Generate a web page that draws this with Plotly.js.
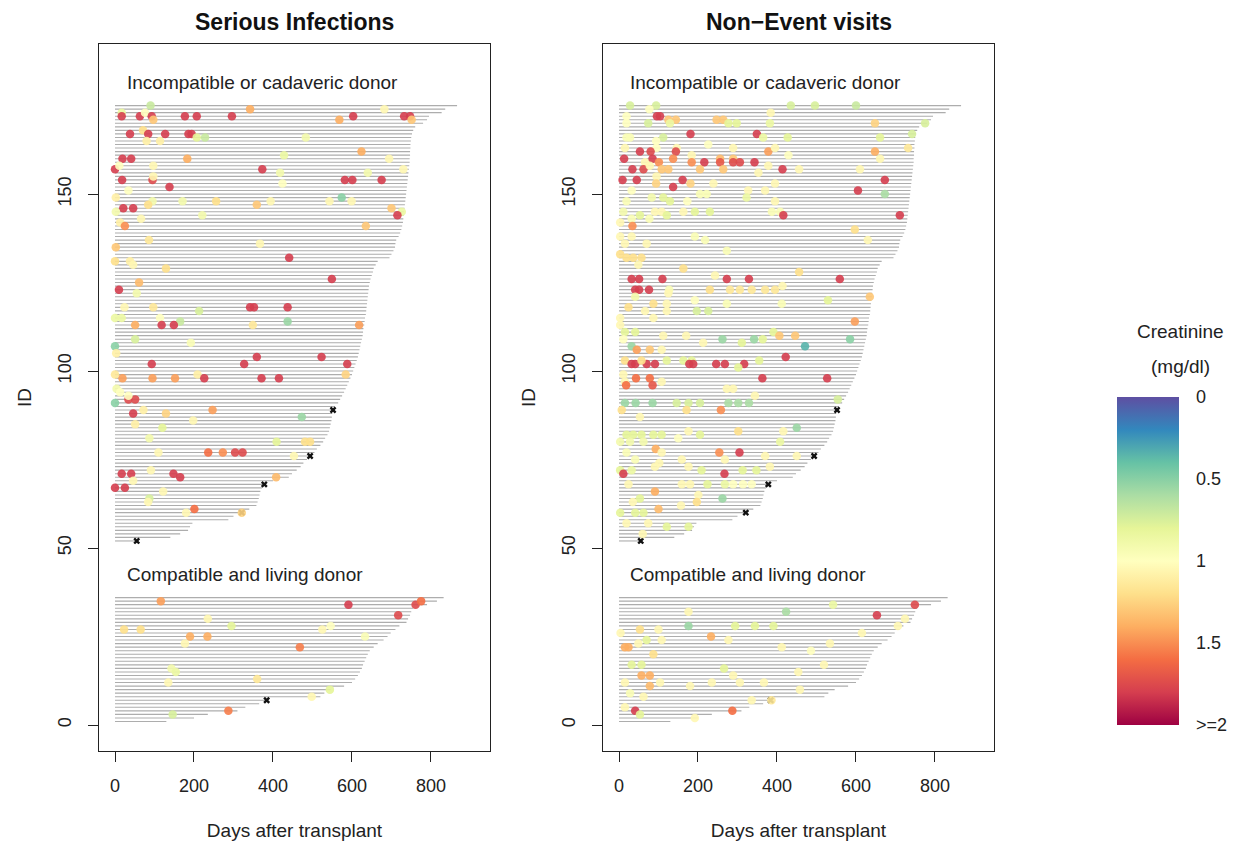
<!DOCTYPE html>
<html>
<head>
<meta charset="utf-8">
<script src="https://cdn.plot.ly/plotly-3.0.1.min.js"></script>
<style>html,body{margin:0;padding:0;background:#fff;}#chart{width:1243px;height:844px;}</style>
</head>
<body>
<div id="chart"></div>
<script>
// ---------- DATA ----------
// Patient IDs and follow-up end (days after transplant)
const lowerIds = [1,2,3,4,5,6,7,8,9,10,11,12,13,14,15,16,17,18,19,20,21,22,23,24,25,26,27,28,29,30,31,32,33,34,35,36];
const lowerEnd = [130,200,235,310,330,365,384,520,530,546,580,600,608,615,620,625,628,632,636,640,645,655,665,680,690,698,710,720,738,742,747,750,755,790,815,832];
const upperIds = [52,53,54,55,56,57,58,59,60,61,62,63,64,65,66,67,68,69,70,71,72,73,74,75,76,77,78,79,80,81,82,83,84,85,86,87,88,89,90,91,92,93,94,95,96,97,98,99,100,101,102,103,104,105,106,107,108,109,110,111,112,113,114,115,116,117,118,119,120,121,122,123,124,125,126,127,128,129,130,131,132,133,134,135,136,137,138,139,140,141,142,143,144,145,146,147,148,149,150,151,152,153,154,155,156,157,158,159,160,161,162,163,164,165,166,167,168,169,170,171,172,173,174,175];
const upperEnd = [55,140,165,185,190,196,287,300,322,340,358,361,364,366,368,372,378,400,440,448,460,470,477,486,494,505,511,520,527,532,538,542,544,546,548,549,550,553,557,565,570,575,580,584,588,592,596,600,603,606,609,612,615,617,619,621,623,625,627,628,629,631,632,633,635,636,637,638,639,640,641,642,643,645,647,650,653,655,660,665,695,700,705,709,710,712,718,722,725,727,729,730,731,732,733,734,735,736,737,738,739,740,741,742,743,744,745,746,746,747,747,748,748,749,750,752,755,760,780,790,795,827,836,866];

// Graft loss / death markers (day, ID)
const lossDay = [55,378,321,494,552,384];
const lossId  = [52,68,60,76,89,7];

// Serious infections: day, ID, creatinine (mg/dl)
const infDay = [90,17,17,63,76,93,97,177,207,296,342,38,71,84,80,114,127,186,194,207,228,19,41,0,11,97,18,95,97,138,183,373,428,418,424,34,2,95,84,171,256,21,46,2,66,13,25,221,359,394,86,2,367,0,38,46,129,441,61,10,55,24,97,0,17,114,213,342,352,437,437,165,
682,568,603,732,747,751,483,624,694,640,730,582,601,675,543,574,599,700,726,715,635,549,
51,118,149,349,51,192,0,3,93,327,359,0,19,95,152,209,226,371,415,4,13,0,34,51,34,72,46,51,129,247,198,120,87,110,236,273,304,323,409,453,91,17,41,46,148,165,0,25,122,87,84,408,201,180,321,
618,523,588,584,473,481,494,
116,235,295,23,65,190,234,177,468,143,154,135,360,287,146,591,761,775,717,525,546,633,544,498];
const infId = [175,173,172,172,173,172,171,172,172,172,174,167,168,167,165,165,167,167,167,166,166,160,160,157,158,158,154,154,155,152,160,157,161,156,153,151,149,148,147,148,148,146,146,145,143,142,141,144,147,148,137,135,136,131,131,130,129,132,125,123,122,118,118,115,115,115,117,118,118,118,114,114,
174,171,172,172,172,171,166,162,160,156,157,154,154,154,148,149,148,146,145,144,141,126,
113,113,113,113,109,108,107,105,102,102,104,99,98,98,98,99,98,98,98,95,94,91,92,92,93,89,88,85,88,89,86,84,81,77,77,77,77,77,80,76,72,71,71,69,71,70,67,67,66,64,63,70,61,60,60,
113,104,102,99,87,80,80,
35,30,28,27,27,25,25,23,22,16,15,12,13,4,3,34,34,35,31,27,28,25,10,8];
const infCreat = [0.7,0.85,1.8,1.8,1.0,1.8,1.3,1.8,1.8,1.8,1.4,1.8,1.2,1.8,1.1,1.1,1.8,1.8,1.8,0.8,0.7,1.8,1.8,1.8,1.0,1.05,1.8,1.75,1.05,1.8,1.4,1.8,0.85,0.9,1.0,1.0,1.1,0.9,1.2,0.9,1.2,1.8,1.8,0.9,1.05,1.1,1.5,0.9,1.3,1.05,1.15,1.3,1.05,1.2,1.1,1.05,1.2,1.8,1.35,1.8,0.9,1.05,1.15,0.85,0.85,1.0,0.75,1.8,1.8,1.8,0.55,0.7,
1.05,1.4,1.8,1.8,1.8,1.3,0.9,1.4,1.05,0.9,1.05,1.8,1.8,1.8,1.05,0.5,1.05,1.3,0.85,1.8,1.3,1.8,
1.4,1.8,1.8,1.15,0.75,0.95,0.5,1.1,1.8,1.8,1.8,1.15,1.45,1.45,1.45,1.1,1.8,1.8,1.8,0.9,1.0,0.5,1.75,1.75,1.0,1.1,1.8,1.1,1.25,1.45,1.05,0.8,0.9,1.05,1.6,1.5,1.75,1.75,0.8,1.05,1.05,1.8,1.8,1.05,1.8,1.8,1.8,1.8,1.05,0.75,1.05,1.35,1.6,1.05,1.25,
1.45,1.8,1.8,1.25,0.55,1.2,1.2,
1.45,1.05,0.8,1.2,1.2,1.4,1.4,1.05,1.55,0.9,0.85,1.05,1.15,1.55,0.75,1.8,1.75,1.6,1.75,1.05,1.0,0.95,0.8,1.05];

// Non-event visits: day, ID, creatinine (mg/dl)
const visDay = [28,94,435,77,19,19,96,104,125,144,74,129,247,264,277,298,384,382,19,28,112,181,349,365,427,94,95,15,146,226,289,53,80,144,184,378,395,429,13,66,85,101,137,184,216,256,256,289,289,306,343,378,414,456,34,62,78,108,125,205,264,353,9,45,95,161,181,94,137,239,395,327,370,32,205,222,323,83,112,129,19,173,395,192,230,163,91,108,53,121,11,387,408,416,32,77,3,34,3,32,192,218,15,70,273,3,19,36,57,49,163,243,456,32,51,110,273,329,41,51,76,127,230,281,306,336,370,395,414,41,125,192,273,412,24,87,121,66,121,197,226,3,87,
3,15,41,112,170,213,262,311,342,364,391,406,446,32,45,78,11,108,15,32,41,70,91,57,121,163,184,178,188,246,268,317,355,302,422,11,15,43,78,18,85,108,363,273,289,344,15,42,85,146,176,205,277,302,329,7,171,258,53,450,19,36,57,87,108,205,3,28,62,150,176,302,416,408,93,19,108,254,305,370,41,159,102,176,268,450,3,11,32,91,209,267,313,348,382,24,159,180,224,268,289,314,336,91,201,262,53,35,197,3,41,62,100,157,19,74,121,176,60,
176,176,4,53,100,70,108,233,277,294,344,391,15,24,49,87,412,32,57,266,57,78,78,15,104,180,235,289,306,367,454,28,62,336,386,15,41,53,287,192,
423,542,653,749,724,706,615,534,486,519,458,
600,496,775,648,661,742,732,648,661,673,610,605,673,711,597,630,635,559,529,597,585,471,527,554];
const visId = [175,175,175,174,172,170,172,172,171,171,170,170,171,171,170,170,173,170,166,166,166,167,167,166,166,165,163,163,163,164,163,162,162,162,161,162,163,161,160,159,160,159,160,159,159,160,159,160,159,159,159,158,157,157,157,157,158,157,157,157,157,156,154,154,155,154,153,153,152,153,153,151,151,151,150,150,149,149,149,148,148,148,148,145,145,145,145,145,144,144,145,145,145,144,143,143,142,141,138,138,138,137,136,136,134,133,132,132,132,130,129,127,128,126,126,126,126,126,123,123,123,123,123,123,123,123,123,123,124,121,122,120,119,119,118,119,119,117,117,117,117,115,115,
113,111,111,110,110,108,109,108,109,109,111,110,110,107,106,106,109,106,103,102,102,102,102,103,103,103,103,102,102,102,102,102,103,101,104,99,97,98,98,96,96,97,98,95,95,93,91,91,91,91,91,91,91,91,91,89,89,89,87,84,82,82,82,82,82,82,80,80,80,81,83,83,83,80,78,77,77,77,77,76,75,75,74,73,75,76,72,71,72,73,72,71,72,72,73,68,68,68,68,68,68,68,68,66,65,64,64,63,63,60,60,60,61,62,57,57,56,56,54,
32,28,26,27,27,24,24,25,24,28,28,28,22,22,23,20,22,17,17,16,14,14,11,12,12,11,12,14,12,12,15,9,8,7,7,5,4,3,4,2,
32,34,31,34,30,28,26,23,21,17,10,
175,175,170,170,166,167,163,162,160,154,157,151,150,144,140,137,121,126,120,114,109,107,98,92];
const visCreat = [0.75,0.75,0.75,1.0,1.0,1.0,1.8,1.8,1.3,1.3,0.75,0.85,1.3,1.3,0.8,0.8,1.05,0.85,0.95,0.95,0.75,1.8,1.8,0.85,0.8,1.0,1.0,1.05,1.05,1.0,1.05,1.8,1.75,1.75,1.05,1.45,1.05,1.0,1.8,1.05,1.8,1.5,1.5,1.5,1.8,1.35,1.7,1.3,1.75,1.75,1.8,1.05,1.8,1.05,1.8,1.75,1.05,1.3,1.3,1.3,1.3,1.05,1.8,1.8,1.05,1.8,1.25,1.25,1.8,1.05,1.05,1.05,1.05,1.0,0.95,0.95,0.85,0.9,0.8,0.8,0.95,1.0,1.05,0.8,0.8,1.05,1.05,1.05,0.8,0.8,0.9,0.95,0.95,1.8,0.95,0.95,1.05,1.5,1.05,1.05,0.95,0.95,1.05,1.05,0.95,1.2,1.2,1.2,1.2,1.05,1.2,1.05,1.2,1.8,1.8,1.8,1.8,1.8,1.8,1.8,1.8,0.95,1.2,1.15,1.15,1.15,1.15,1.15,1.05,0.9,1.05,1.0,0.95,0.95,1.2,1.2,1.05,1.05,1.05,0.75,0.75,1.05,1.05,
1.05,0.8,0.8,1.05,1.05,1.05,0.55,0.8,0.55,0.8,0.8,1.3,1.3,0.55,1.45,1.3,1.0,1.05,1.2,1.8,1.8,1.8,1.8,1.2,0.8,0.8,0.8,1.8,1.8,1.8,1.8,1.8,0.8,0.8,1.8,1.05,1.05,1.6,1.6,1.6,1.7,1.05,1.8,1.05,1.05,1.05,0.55,0.55,0.55,0.75,0.75,0.75,0.6,0.6,0.6,1.2,1.2,1.5,1.05,0.55,0.8,0.8,0.8,0.8,0.8,0.8,0.9,0.9,0.9,1.0,1.05,1.2,1.05,0.85,1.4,0.95,1.05,1.5,1.8,1.05,0.95,1.05,1.05,1.05,1.05,1.05,0.8,1.8,0.85,1.05,0.8,1.8,0.8,0.8,1.05,1.05,1.05,1.05,0.8,0.85,1.0,1.0,1.0,1.4,1.05,0.55,0.8,1.05,1.2,0.8,0.8,0.8,1.35,1.05,1.05,1.05,0.8,0.8,1.05,
1.05,0.55,1.05,1.2,1.05,0.8,1.05,1.4,1.05,0.8,0.8,0.8,1.4,1.4,1.05,1.2,1.05,0.8,0.8,0.8,1.4,1.4,1.35,1.05,1.05,1.05,1.05,1.05,1.05,1.05,1.05,0.95,1.05,1.05,1.15,1.05,1.8,0.8,1.6,1.05,
0.6,0.85,1.8,1.75,1.05,1.05,1.05,1.05,1.0,1.05,1.05,
0.7,0.75,0.75,1.25,0.8,0.75,1.15,1.4,1.05,1.8,1.05,1.8,0.6,1.8,1.2,1.05,1.3,1.8,0.8,1.45,0.5,0.35,1.8,0.75];

// Colour bar tick labels
const cbTickVals = [0, 0.5, 1, 1.5, 2];
const cbTickText = ['0', '0.5', '1', '1.5', '>=2'];

// ---------- BUILD ----------
const spectral = [[0,'#9E0142'],[0.1,'#D53E4F'],[0.2,'#F46D43'],[0.3,'#FDAE61'],[0.4,'#FEE08B'],[0.5,'#FFFFBF'],[0.6,'#E6F598'],[0.7,'#ABDDA4'],[0.8,'#66C2A5'],[0.9,'#3288BD'],[1,'#5E4FA2']];
// colour value is negated so the colour bar reads 0 at the top and >=2 at the bottom
const toColor = arr => arr.map(v => -Math.min(v, 2));

function followLines(xa, ya) {
  const x = [], y = [];
  const ids = lowerIds.concat(upperIds), ends = lowerEnd.concat(upperEnd);
  for (let i = 0; i < ids.length; i++) { x.push(0, ends[i], null); y.push(ids[i], ids[i], null); }
  return {type:'scatter', mode:'lines', x, y, xaxis:xa, yaxis:ya, line:{color:'#ADADAD', width:1.1}, hoverinfo:'skip'};
}
function lossTrace(xa, ya) {
  return {type:'scatter', mode:'markers', x:lossDay, y:lossId, xaxis:xa, yaxis:ya,
    marker:{symbol:'x', size:6, color:'#111', line:{width:0}}};
}
function eventTrace(d, id, c, xa, ya, showscale) {
  return {type:'scatter', mode:'markers', x:d, y:id, xaxis:xa, yaxis:ya,
    marker:{size:8.5, color:toColor(c), cmin:-2, cmax:0, colorscale:spectral, opacity:0.9, line:{width:0},
      showscale:showscale,
      colorbar: showscale ? {x:1117/1243, xanchor:'left', xpad:0, ypad:0, y:1-561/844, yanchor:'middle',
        len:328, lenmode:'pixels', thickness:62, thicknessmode:'pixels', outlinewidth:0,
        ticks:'outside', ticklen:14, tickcolor:'rgba(255,255,255,0)',
        tickvals:cbTickVals.map(v => -v), ticktext:cbTickText, tickfont:{size:18, color:'#222'}} : undefined}};
}

const data = [
  followLines('x','y'), lossTrace('x','y'), eventTrace(infDay, infId, infCreat, 'x', 'y', false),
  followLines('x2','y2'), lossTrace('x2','y2'), eventTrace(visDay, visId, visCreat, 'x2', 'y2', true)
];

const axX = dom => ({domain:dom, range:[-40.5, 949.4], tickvals:[0,200,400,600,800], ticks:'outside', ticklen:10,
  tickcolor:'#222', tickwidth:1, showline:true, mirror:true, linecolor:'#222', linewidth:1, showgrid:false, zeroline:false,
  automargin:false, ticklabelstandoff:8, tickfont:{size:18},
  title:{text:'Days after transplant', font:{size:19}, standoff:29}});
const axY = () => ({domain:[0.11019, 0.94787], range:[-7.34, 192.4], tickvals:[0,50,100,150], tickangle:-90, ticks:'outside',
  ticklen:10, tickcolor:'#222', tickwidth:1, showline:true, mirror:true, linecolor:'#222', linewidth:1, showgrid:false,
  zeroline:false, automargin:false, ticklabelstandoff:10, tickfont:{size:18},
  title:{text:'ID', font:{size:19}, standoff:18}});

const ann = (text, x, y, xref, yref, opts) => Object.assign({text, x, y, xref, yref, showarrow:false}, opts || {});
const layout = {
  width:1243, height:844, margin:{l:0, r:0, t:0, b:0}, paper_bgcolor:'#fff', plot_bgcolor:'#fff', showlegend:false,
  font:{family:'"Liberation Sans", Arial, sans-serif', color:'#222', size:18},
  xaxis:Object.assign(axX([0.07965, 0.39421]), {anchor:'y'}),
  yaxis:Object.assign(axY(), {anchor:'x'}),
  xaxis2:Object.assign(axX([0.48512, 0.79968]), {anchor:'y2'}),
  yaxis2:Object.assign(axY(), {anchor:'x2'}),
  annotations:[
    ann('<b>Serious Infections</b>', 294.5/1243, 1-22/844, 'paper', 'paper', {font:{size:23, color:'#111'}, xanchor:'center', yanchor:'middle'}),
    ann('<b>Non\u2212Event visits</b>', 798.5/1243, 1-22/844, 'paper', 'paper', {font:{size:23, color:'#111'}, xanchor:'center', yanchor:'middle'}),
    ann('Incompatible or cadaveric donor', 25, 181.6, 'x', 'y', {font:{size:19}, xanchor:'left', yanchor:'middle'}),
    ann('Compatible and living donor', 25, 42.4, 'x', 'y', {font:{size:19}, xanchor:'left', yanchor:'middle'}),
    ann('Incompatible or cadaveric donor', 23, 181.6, 'x2', 'y2', {font:{size:19}, xanchor:'left', yanchor:'middle'}),
    ann('Compatible and living donor', 23, 42.4, 'x2', 'y2', {font:{size:19}, xanchor:'left', yanchor:'middle'}),
    ann('Creatinine', 1180/1243, 1-331/844, 'paper', 'paper', {font:{size:19}, xanchor:'center', yanchor:'middle'}),
    ann('(mg/dl)', 1180/1243, 1-366/844, 'paper', 'paper', {font:{size:19}, xanchor:'center', yanchor:'middle'})
  ]
};

Plotly.newPlot('chart', data, layout, {displayModeBar:false, staticPlot:true});
</script>
</body>
</html>
